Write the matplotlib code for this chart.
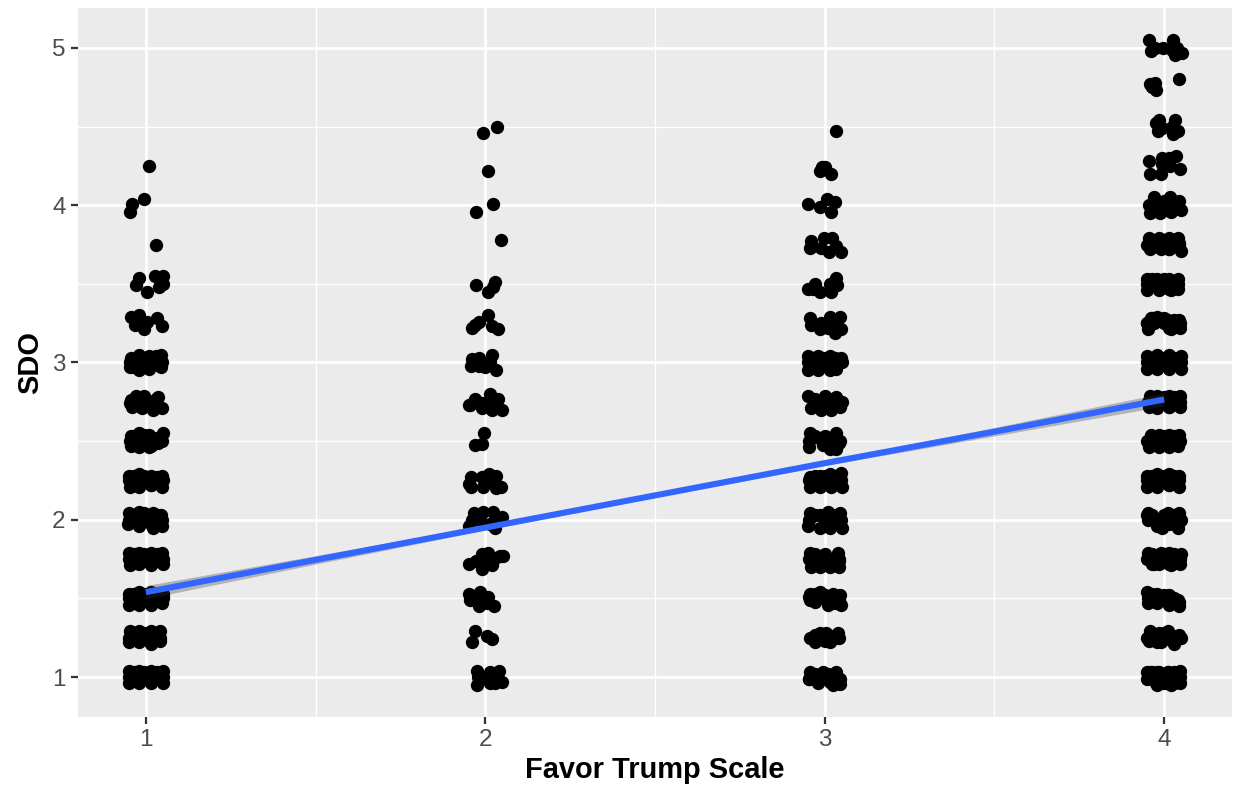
import numpy as np
import matplotlib
matplotlib.use("Agg")
import matplotlib.pyplot as plt

plt.rcParams['font.family'] = ['Liberation Sans', 'DejaVu Sans']

# Favor Trump = 1: jitter offset from 1, SDO
g1_dx = [.009,-.005,-.04,-.047,.03,
 -.02,-.03,.003,.027,.05,.05,.04,
 -.045,-.02,-.032,-.005,.003,.032,.047,
 -.045,-.02,.01,.045,-.046,-.02,.01,.046,-.03,0,.03,
 -.028,-.005,.037,-.047,-.02,.01,.03,.047,-.01,.02,-.04,
 -.044,-.02,.01,.05,-.044,-.02,.01,.035,-.03,0,.04,
 -.05,-.02,.015,.048,-.047,-.02,.015,.048,-.03,0,.03,
 -.05,-.02,.02,.045,-.052,-.02,.02,.047,-.03,0,.03,
 -.049,-.02,.015,.048,-.048,-.02,.015,.05,-.03,0,.03,
 -.05,-.02,.015,.05,-.05,-.02,.015,.048,-.03,0,.03,
 -.047,-.02,.015,.042,-.05,-.02,.015,.042,-.03,0,.03,
 -.05,-.02,.015,.05,-.05,-.02,.015,.05,-.03,0,.03]
g1_y = [4.25,4.04,4.01,3.96,3.75,
 3.54,3.49,3.45,3.55,3.55,3.50,3.48,
 3.29,3.30,3.24,3.21,3.26,3.28,3.23,
 3.03,3.05,3.04,3.05,2.97,2.95,2.96,2.97,3.0,3.0,3.0,
 2.79,2.79,2.78,2.74,2.74,2.74,2.74,2.71,2.71,2.70,2.72,
 2.53,2.55,2.54,2.55,2.47,2.46,2.46,2.49,2.5,2.5,2.5,
 2.28,2.29,2.28,2.28,2.21,2.21,2.22,2.21,2.25,2.25,2.25,
 2.04,2.05,2.04,2.03,1.97,1.96,1.95,1.96,2.0,2.0,2.0,
 1.79,1.79,1.79,1.79,1.71,1.72,1.71,1.72,1.75,1.75,1.75,
 1.53,1.54,1.54,1.53,1.46,1.46,1.46,1.47,1.5,1.5,1.5,
 1.29,1.29,1.29,1.29,1.22,1.22,1.21,1.23,1.25,1.25,1.25,
 1.04,1.04,1.04,1.04,.96,.96,.96,.96,1.0,1.0,1.0]
g1b_dx = [-.005,.03,-.048,.047,-.035,.015,
 -.045,.03,-.01,
 -.035,-.005,.032,-.048,.048,.015,
 -.035,-.005,.032,-.05,.049,.015,
 -.035,-.005,.035,-.05,.047,.015,
 -.035,-.005,.032,-.05,.049,.015,
 -.035,-.005,.032,-.05,.049,.015,
 -.035,-.005,.03,-.05,.042,.015,
 -.035,-.005,.032,-.05,.05,.015]
g1b_y = [3.03,3.04,3.0,3.0,2.97,2.98,
 2.76,2.77,2.76,
 2.53,2.54,2.52,2.5,2.5,2.47,
 2.28,2.28,2.27,2.25,2.25,2.22,
 2.03,2.04,2.03,2.0,2.0,1.97,
 1.78,1.78,1.78,1.75,1.75,1.72,
 1.53,1.53,1.52,1.5,1.5,1.47,
 1.28,1.28,1.28,1.25,1.25,1.22,
 1.03,1.03,1.03,1.0,1.0,.97]

# Favor Trump = 2
g2_dx = [.034,-.008,.008,.024,-.026,.046,
 -.026,.03,.024,.007,
 .009,-.02,-.039,.019,.038,-.03,
 -.038,-.043,-.018,-.018,.019,.014,.031,0,
 -.03,-.047,.014,.038,-.01,-.045,-.01,.019,.05,.014,.033,
 -.004,-.031,-.009,
 -.041,-.047,-.043,-.006,-.011,.011,.033,.031,.046,.024,
 -.032,-.038,-.047,-.006,.024,.048,.028,-.016,.014,.038,
 .007,-.011,.043,-.047,-.028,-.011,.021,.028,.051,.004,
 -.047,-.016,-.045,.009,-.02,.004,.025,-.03,
 -.03,-.039,.004,.019,
 -.025,-.025,-.021,.014,.041,.048,.014,0,.028]
g2_y = [4.50,4.46,4.22,4.01,3.96,3.78,
 3.49,3.51,3.48,3.45,
 3.30,3.26,3.22,3.23,3.21,3.24,
 3.02,2.98,3.03,2.98,3.05,3.0,2.95,2.97,
 2.77,2.73,2.80,2.77,2.74,2.73,2.71,2.70,2.70,2.75,2.74,
 2.55,2.475,2.48,
 2.27,2.23,2.21,2.21,2.27,2.29,2.28,2.20,2.21,2.25,
 2.04,2.0,1.96,2.05,2.05,2.02,1.95,2.0,1.97,2.0,
 1.79,1.78,1.77,1.72,1.74,1.69,1.71,1.76,1.77,1.74,
 1.53,1.54,1.49,1.51,1.45,1.47,1.45,1.49,
 1.29,1.22,1.26,1.24,
 1.04,.95,1.0,1.03,1.04,.97,.96,1.0,.96]

# Favor Trump = 3
g3_dx = [.033,
 -.007,.02,0,-.015,
 -.049,-.013,.007,.029,.02,
 -.039,-.042,-.003,.022,-.01,.013,.034,.047,
 -.049,-.029,-.013,.034,.036,.02,.015,-.034,
 -.044,-.039,-.015,.015,.044,.049,.029,.01,-.01,.034,
 -.049,-.049,-.02,-.02,.015,.015,.049,.034,-.035,0,.034,
 -.049,0,.034,-.039,-.01,.02,.046,-.03,.01,.05,
 -.044,-.046,-.017,-.005,.034,.042,.015,.015,.034,
 -.044,-.042,-.015,.049,.051,.015,-.015,.02,0,
 -.044,-.049,-.015,-.015,.01,.015,.044,.051,0,.03,
 -.044,-.046,-.039,-.015,.015,.039,.042,-.015,.01,.042,
 -.044,-.042,-.029,-.015,.01,.025,.046,.049,-.005,.03,
 -.042,-.029,-.015,.015,.005,.039,.042,-.01,
 -.044,-.046,-.02,-.005,.025,.025,.046,.034,0,.042]
g3_y = [4.47,
 4.24,4.20,4.24,4.22,
 4.01,3.99,4.04,4.02,3.96,
 3.77,3.73,3.79,3.79,3.73,3.70,3.74,3.70,
 3.47,3.50,3.45,3.54,3.49,3.45,3.50,3.47,
 3.28,3.24,3.21,3.29,3.29,3.21,3.19,3.22,3.25,3.25,
 3.04,2.95,3.04,2.95,3.04,2.95,3.03,2.96,3.0,3.0,3.0,
 2.79,2.79,2.78,2.71,2.70,2.70,2.72,2.75,2.75,2.75,
 2.55,2.46,2.52,2.475,2.55,2.49,2.45,2.52,2.45,
 2.27,2.21,2.28,2.30,2.21,2.29,2.21,2.21,2.25,
 2.04,1.96,2.03,1.95,2.05,1.95,2.04,1.95,2.0,2.0,
 1.79,1.75,1.70,1.70,1.70,1.79,1.70,1.77,1.74,1.75,
 1.53,1.49,1.48,1.54,1.46,1.53,1.52,1.46,1.5,1.47,
 1.25,1.22,1.28,1.22,1.28,1.28,1.25,1.25,
 1.03,.99,.96,1.03,1.02,.95,.955,1.03,1.0,.99]
g3b_dx = [-.035,-.005,.03,-.05,.05,.015,
 -.03,-.005,.025,.04,-.02,.015,
 -.03,0,.03,-.045,.046,.015,
 -.03,0,.03,-.046,.048,.015,
 -.03,0,.03,-.046,.048,.015,
 -.03,0,.025,-.035,.042,.015,
 -.03,.0,.025,-.045,.042,.015,
 -.03,.005,.02,-.035,.03,.0,
 -.03,.01,.03,-.046,.046,.015]
g3b_y = [3.03,3.03,3.03,3.0,3.0,2.97,
 2.77,2.77,2.77,2.73,2.73,2.73,
 2.53,2.53,2.53,2.5,2.5,2.47,
 2.28,2.28,2.28,2.25,2.25,2.22,
 2.03,2.03,2.03,2.0,2.0,1.97,
 1.78,1.78,1.75,1.72,1.74,1.72,
 1.53,1.52,1.52,1.51,1.49,1.48,
 1.27,1.27,1.26,1.25,1.25,1.23,
 1.02,1.02,1.02,.99,.99,.97]

# Favor Trump = 4
g4_dx = [-.046,.026,-.039,-.027,-.002,.032,.052,.023,.037,
 .044,-.043,-.027,-.024,-.035,
 -.014,-.024,-.017,.032,.042,.026,-.007,.023,
 -.046,-.041,-.007,.035,.013,.047,-.01,-.007,.018,
 -.031,-.043,-.012,.018,.049,.045,.02,-.007,-.04,
 -.045,-.042,-.015,.015,.04,.05,.045,-.03,-.01,.015,-.015,.02,
 -.05,-.05,-.02,-.015,.015,.02,.042,.042,-.03,0,.03,
 -.038,-.05,-.048,-.02,.01,.02,.045,.048,-.03,0,.03,
 -.05,-.05,-.02,-.02,.015,.015,.05,.05,-.03,0,.03,
 -.043,-.02,.015,.048,-.045,-.02,.015,.048,-.03,0,.03,
 -.04,-.045,-.015,-.015,.015,.015,.045,.04,-.03,0,.03,
 -.05,-.05,-.02,-.02,.015,.015,.045,.045,-.03,0,.03,
 -.05,-.02,.01,.045,-.048,-.02,-.005,.04,-.03,0,.02,
 -.047,-.035,-.015,.015,.05,-.03,-.01,.02,.048,.03,
 -.05,-.048,-.02,.015,.045,-.02,.015,.045,-.03,0,.03,
 -.042,-.045,-.015,.01,.03,-.02,.005,.045,.05,.03,-.03,
 -.042,-.05,-.015,.01,.03,.045,-.02,.03,-.03,.01,
 -.05,-.02,.01,.048,-.025,0,.02,.048,-.03,0,.03]
g4_y = [5.05,5.05,4.98,5.0,5.0,4.955,4.97,4.99,5.0,
 4.80,4.77,4.78,4.73,4.75,
 4.54,4.52,4.47,4.54,4.47,4.45,4.49,4.50,
 4.28,4.20,4.30,4.31,4.30,4.23,4.20,4.26,4.25,
 4.05,3.95,3.95,4.05,3.97,4.03,3.96,4.0,4.0,
 3.79,3.72,3.79,3.79,3.79,3.71,3.76,3.75,3.72,3.72,3.75,3.75,
 3.53,3.46,3.53,3.46,3.53,3.46,3.53,3.47,3.5,3.5,3.5,
 3.28,3.25,3.21,3.29,3.27,3.21,3.27,3.22,3.25,3.25,3.25,
 3.04,2.96,3.05,2.96,3.05,2.96,3.04,2.96,3.0,3.0,3.0,
 2.79,2.79,2.79,2.79,2.72,2.71,2.72,2.72,2.75,2.75,2.75,
 2.54,2.46,2.54,2.46,2.54,2.46,2.54,2.47,2.5,2.5,2.5,
 2.28,2.21,2.29,2.21,2.29,2.22,2.28,2.21,2.25,2.25,2.25,
 2.03,1.98,2.04,2.04,2.04,1.96,1.95,1.95,2.0,2.0,2.0,
 1.79,1.72,1.72,1.79,1.78,1.72,1.79,1.71,1.72,1.75,
 1.54,1.47,1.53,1.52,1.48,1.47,1.46,1.45,1.5,1.5,1.5,
 1.29,1.23,1.28,1.29,1.22,1.22,1.27,1.27,1.25,1.21,1.25,
 1.03,.99,1.03,1.03,1.03,1.03,.95,.96,.98,1.0,
 1.03,1.03,1.03,1.04,.96,.96,.95,.96,1.0,1.0,1.0]
g4b_dx = [-.03,0,.03,-.045,.04,.015,
 -.035,0,.03,-.05,.045,.015,
 -.035,0,.03,-.05,.042,.015,
 -.035,0,.03,-.05,.048,.015,
 -.035,0,.03,-.05,.05,.015,
 -.035,0,.03,-.047,.048,.015,
 -.035,0,.03,-.05,.047,.015,
 -.035,0,.03,-.05,.045,.015,
 -.035,0,.03,-.048,.05,.015,
 -.035,0,.03,-.05,.047,.015,
 -.035,0,.02,-.048,.04,.015,
 -.035,0,.025,-.05,-.01,.015,
 -.035,0,.03,-.045,.048,.015]
g4b_y = [4.03,4.03,4.02,4.0,4.0,3.97,
 3.78,3.78,3.78,3.75,3.75,3.72,
 3.53,3.53,3.52,3.5,3.5,3.47,
 3.28,3.28,3.27,3.25,3.25,3.22,
 3.03,3.03,3.03,3.0,3.0,2.97,
 2.78,2.78,2.78,2.75,2.75,2.72,
 2.53,2.53,2.53,2.5,2.5,2.47,
 2.28,2.28,2.28,2.25,2.25,2.22,
 2.03,2.03,2.03,2.0,2.0,1.97,
 1.78,1.78,1.78,1.75,1.75,1.72,
 1.53,1.52,1.51,1.5,1.49,1.47,
 1.28,1.28,1.26,1.25,1.22,1.24,
 1.03,1.01,1.01,1.02,1.0,.97]

favor_levels = [1, 2, 3, 4]
fit_x = [1, 1.5, 2, 2.5, 3, 3.5, 4]
fit_y = [1.54, 1.745, 1.95, 2.155, 2.36, 2.56, 2.765]
fit_se = [.042, .027, .015, .012, .015, .027, .042]
x_ticks = [1, 2, 3, 4]
x_minor = [1.5, 2.5, 3.5]
y_ticks = [1, 2, 3, 4, 5]
y_minor = [1.5, 2.5, 3.5, 4.5]

W, H = 1238, 786
fig = plt.figure(figsize=(W/100, H/100), dpi=100, facecolor='white')
ax = fig.add_axes([78/W, (H-717)/H, (1232-78)/W, (717-8)/H])
ax.set_facecolor('#EBEBEB')
for s in ax.spines.values():
    s.set_visible(False)
ax.set_xlim(0.8, 4.2)
ax.set_ylim(0.746, 5.254)
ax.set_xticks(x_ticks)
ax.set_yticks(y_ticks)
ax.set_xticks(x_minor, minor=True)
ax.set_yticks(y_minor, minor=True)
ax.grid(True, which='major', color='white', linewidth=1.9, zorder=1)
ax.grid(True, which='minor', color='white', linewidth=0.95, zorder=1)
ax.set_axisbelow(True)
ax.tick_params(which='minor', length=0)
ax.tick_params(which='major', length=5, width=1.6, color='#333333',
               labelcolor='#4D4D4D', labelsize=17.5)
ax.tick_params(axis='x', pad=4)
ax.tick_params(axis='y', pad=4)

groups = [(g1_dx + g1b_dx, g1_y + g1b_y), (g2_dx, g2_y),
          (g3_dx + g3b_dx, g3_y + g3b_y), (g4_dx + g4b_dx, g4_y + g4b_y)]
for lev, (dx, y) in zip(favor_levels, groups):
    ax.scatter(lev + np.array(dx), y, s=92, c='black', linewidths=0, zorder=3)

fx, fy, fs = np.array(fit_x), np.array(fit_y), np.array(fit_se)
ax.fill_between(fx, fy - fs, fy + fs, color='#333333', alpha=0.3, linewidth=0, zorder=4)
ax.plot(fx, fy, color='#3366FF', linewidth=4.4, solid_capstyle='butt', zorder=5)

ax.set_xlabel('Favor Trump Scale', fontsize=20.9, fontweight='bold', labelpad=3.5)
ax.set_ylabel('SDO', fontsize=20.9, fontweight='bold', labelpad=5.5)

fig.savefig('out.png', dpi=100)
